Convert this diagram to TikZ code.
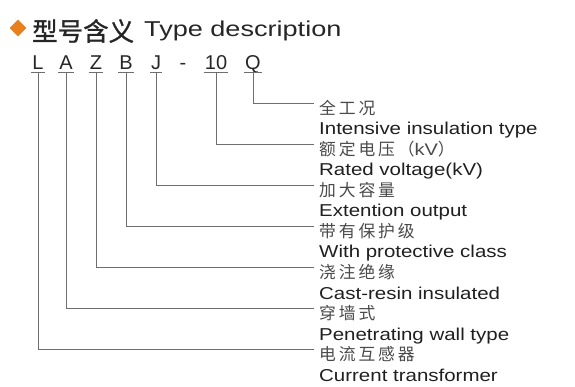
\documentclass[tikz,border=0pt]{standalone}
\usepackage{fontspec}
\setmainfont{Liberation Sans}
\newfontfamily\cjk[LetterSpace=17]{Noto Sans CJK SC}
\newfontfamily\cjkbold[FakeBold=1.2]{Noto Sans CJK SC}
\newfontfamily\enwide[FakeStretch=1.19]{Liberation Sans}
\newfontfamily\titlewide[FakeStretch=1.26]{Liberation Sans}
\usepackage{xcolor}
\usepackage{tikz}
\usetikzlibrary{shapes.geometric}
\usetikzlibrary{positioning}

\definecolor{diaorange}{HTML}{E8801E}
\definecolor{linegray}{HTML}{6E6E6E}
\definecolor{cngray}{HTML}{4A4A4A}

\tikzset{
  code/.style={anchor=base, inner xsep=1pt, inner ysep=0pt, text=black!85,
    font=\fontsize{20}{20}\selectfont},
  cn/.style={anchor=west, inner sep=0pt, text=cngray,
    font=\cjk\fontsize{16.8}{16.8}\selectfont},
  en/.style={anchor=base west, inner sep=0pt, text=black!88,
    font=\enwide\fontsize{17.2}{17.2}\selectfont},
  leader/.style={draw=linegray, line width=0.8pt},
}

\begin{document}
\begin{tikzpicture}[x=1pt, y=-1pt]
  \useasboundingbox (0,0) rectangle (575,387);

  % ===== Title =====
  \node[diamond, fill=diaorange, minimum size=17pt, inner sep=0pt] (mark) at (18,28) {};
  \node[anchor=west, inner sep=0pt, text=black!85, font=\cjkbold\fontsize{25.5}{25.5}\selectfont]
    (titlecn) at (32,31) {型号含义};
  \node[anchor=base west, inner sep=0pt, text=black!85, font=\titlewide\fontsize{21.5}{21.5}\selectfont]
    (titleen) at (144,37) {Type description};

  % ===== Model code =====
  \node[code] (cL) at (38,70) {L};
  \node[code] (cA) at (66,70) {A};
  \node[code] (cZ) at (96,70) {Z};
  \node[code] (cB) at (126,70) {B};
  \node[code] (cJ) at (156,70) {J};
  \node[code] (cdash) at (183,70) {-};
  \node[code] (c10) at (216,70) {10};
  \node[code] (cQ) at (253,70) {Q};

  % ===== Meanings =====
  \node[cn] (nQ) at (319,108) {全工况};
  \node[en] (tQ) at (319,135) {Intensive insulation type};
  \node[cn] (n10) at (319,149) {额定电压（{\enwide kV}）};
  \node[en] (t10) at (319,176) {Rated voltage(kV)};
  \node[cn] (nJ) at (319,190) {加大容量};
  \node[en] (tJ) at (319,217) {Extention output};
  \node[cn] (nB) at (319,231) {带有保护级};
  \node[en] (tB) at (319,258) {With protective class};
  \node[cn] (nZ) at (319,272) {浇注绝缘};
  \node[en] (tZ) at (319,299) {Cast-resin insulated};
  \node[cn] (nA) at (319,313) {穿墙式};
  \node[en] (tA) at (319,340) {Penetrating wall type};
  \node[cn] (nL) at (319,354) {电流互感器};
  \node[en] (tL) at (319,381) {Current transformer};

  % Leader ends
  \coordinate (eQ) at ([xshift=-5pt,yshift=5pt]nQ.west);
  \coordinate (e10) at ([xshift=-5pt,yshift=5pt]n10.west);
  \coordinate (eJ) at ([xshift=-5pt,yshift=5pt]nJ.west);
  \coordinate (eB) at ([xshift=-5pt,yshift=5pt]nB.west);
  \coordinate (eZ) at ([xshift=-5pt,yshift=5pt]nZ.west);
  \coordinate (eA) at ([xshift=-5pt,yshift=5pt]nA.west);
  \coordinate (eL) at ([xshift=-5pt,yshift=5pt]nL.west);

  % Underlines and leaders
  \draw[leader] ([yshift=-2pt]cQ.base west) -- ([yshift=-2pt]cQ.base east);
  \draw[leader] ([yshift=-2pt]cQ.base) |- (eQ);
  \draw[leader] ([yshift=-2pt]c10.base west) -- ([yshift=-2pt]c10.base east);
  \draw[leader] ([yshift=-2pt]c10.base) |- (e10);
  \draw[leader] ([yshift=-2pt]cJ.base west) -- ([yshift=-2pt]cJ.base east);
  \draw[leader] ([yshift=-2pt]cJ.base) |- (eJ);
  \draw[leader] ([yshift=-2pt]cB.base west) -- ([yshift=-2pt]cB.base east);
  \draw[leader] ([yshift=-2pt]cB.base) |- (eB);
  \draw[leader] ([yshift=-2pt]cZ.base west) -- ([yshift=-2pt]cZ.base east);
  \draw[leader] ([yshift=-2pt]cZ.base) |- (eZ);
  \draw[leader] ([yshift=-2pt]cA.base west) -- ([yshift=-2pt]cA.base east);
  \draw[leader] ([yshift=-2pt]cA.base) |- (eA);
  \draw[leader] ([yshift=-2pt]cL.base west) -- ([yshift=-2pt]cL.base east);
  \draw[leader] ([yshift=-2pt]cL.base) |- (eL);
\end{tikzpicture}
\end{document}
